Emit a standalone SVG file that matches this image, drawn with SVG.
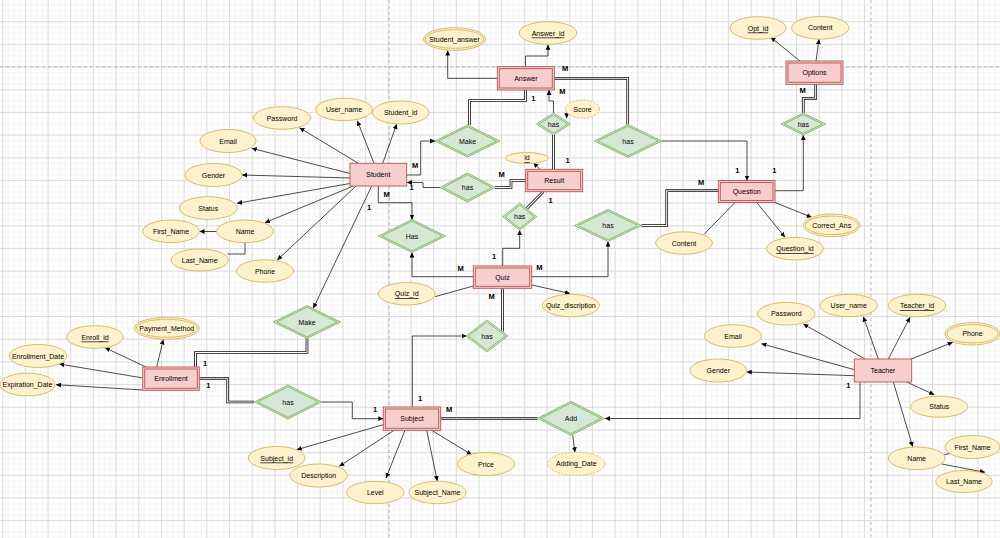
<svg xmlns="http://www.w3.org/2000/svg" width="1000" height="538" viewBox="0 0 1000 538">
<defs>
<pattern id="gmin" x="-0.135" y="-3.835" width="5.67" height="5.67" patternUnits="userSpaceOnUse"><path d="M2.835,0V5.67M0,2.835H5.67" stroke="#eeeeee" stroke-width="0.6"/></pattern>
<pattern id="gmaj" x="-8.64" y="-12.34" width="22.68" height="22.68" patternUnits="userSpaceOnUse"><path d="M11.34,0V22.68M0,11.34H22.68" stroke="#d6d6d6" stroke-width="0.8"/></pattern>
<marker id="ar" markerWidth="6" markerHeight="6" refX="5" refY="3" orient="auto" markerUnits="userSpaceOnUse"><path d="M0,0.6L5,3L0,5.4z" fill="#000"/></marker>
</defs>
<style>
.e{fill:#f8cecc;stroke:#b85450;stroke-width:0.9}
.ei{fill:none;stroke:#b85450;stroke-width:0.9}
.a{fill:#fff2cc;stroke:#d6b656;stroke-width:0.9}
.ai{fill:none;stroke:#d6b656;stroke-width:0.9}
.dash{stroke-dasharray:2,1.5}
.r{fill:#d5e8d4;stroke:#82b366;stroke-width:0.9}
.ri{fill:none;stroke:#82b366;stroke-width:0.9}
.t{font-family:"Liberation Sans",Arial,sans-serif;font-size:7px;text-anchor:middle;dominant-baseline:central;fill:#000}
.u{text-decoration:underline}
.c{fill:none;stroke:#111;stroke-width:0.75}
.ca{fill:none;stroke:#111;stroke-width:0.75;marker-end:url(#ar)}
.d1{fill:none;stroke:#111;stroke-width:2.7}
.d2{fill:none;stroke:#fff;stroke-width:1.1}
.lb{font-family:"Liberation Sans",Arial,sans-serif;font-size:7.5px;font-weight:bold;text-anchor:middle;dominant-baseline:central;fill:#000}
</style>
<rect width="1000" height="538" fill="#fff"/>
<rect width="1000" height="538" fill="url(#gmin)"/>
<rect width="1000" height="538" fill="url(#gmaj)"/>
<path d="M0,66.7H1000M389.3,0V538M871,0V538" stroke="#a8a8a8" stroke-width="0.8" stroke-dasharray="3,3" fill="none"/>

<g id="connectors">
<!-- double lines -->
<path class="d1" d="M469.5,125V100.5H525.5V90"/><path class="d2" d="M469.5,125V100.5H525.5V90"/>
<path class="d1" d="M554.3,78.3H627.7V124.5"/><path class="d2" d="M554.3,78.3H627.7V124.5"/>
<path class="d1" d="M553.5,135V169.3"/><path class="d2" d="M553.5,135V169.3"/>
<path class="d1" d="M495,187.5H511V180.5H525.7"/><path class="d2" d="M495,187.5H511V180.5H525.7"/>
<path class="d1" d="M526.7,208.5L543.3,191.7"/><path class="d2" d="M526.7,208.5L543.3,191.7"/>
<path class="d1" d="M641.5,225.5H666.7V190.7H718.3"/><path class="d2" d="M641.5,225.5H666.7V190.7H718.3"/>
<path class="d1" d="M803.3,112.7V98.3H815.7V84.3"/><path class="d2" d="M803.3,112.7V98.3H815.7V84.3"/>
<path class="d1" d="M307,338.5V352.5H195.5V367"/><path class="d2" d="M307,338.5V352.5H195.5V367"/>
<path class="d1" d="M199.3,378.7H227.7V402H254"/><path class="d2" d="M199.3,378.7H227.7V402H254"/>
<path class="d1" d="M502.5,288.3V331.5"/><path class="d2" d="M502.5,288.3V331.5"/>
<path class="d1" d="M440.7,418.7H537.3"/><path class="d2" d="M440.7,418.7H537.3"/>
<!-- single lines -->
<path class="ca" d="M358.3,163.3L299.5,127.8"/>
<path class="ca" d="M374,163.3L357.3,120.7"/>
<path class="ca" d="M382.7,163.3L396.7,124"/>
<path class="ca" d="M350,173.5L251.7,148.3"/>
<path class="ca" d="M350,178L242,175"/>
<path class="ca" d="M350,183.5L237,203.3"/>
<path class="ca" d="M353.3,186L265,222.7"/>
<path class="ca" d="M356,186L277.3,260"/>
<path class="ca" d="M371.7,186L313.3,308.3"/>
<path class="ca" d="M216.7,231.5H199.5"/>
<path class="c" d="M245,242.7V254H227.5"/>
<path class="ca" d="M406.7,175H420.7V141H435"/>
<path class="ca" d="M440,187.5H423V182.5H407"/>
<path class="ca" d="M378.3,186V202.7H412V219.5"/>
<path class="ca" d="M473.3,276.7H412V252.5"/>
<path class="ca" d="M525.5,66.7V56H548V44.7"/>
<path class="ca" d="M497.3,78.3H447.7V50.5"/>
<path class="ca" d="M661.5,141H747V180.5"/>
<path class="ca" d="M553.5,113V101H549V90"/>
<path class="ca" d="M566.7,112.5V118.3"/>
<path class="ca" d="M540,169.3L533.3,162.7"/>
<path class="ca" d="M502.7,266V248.3H519.7V230.2"/>
<path class="c" d="M473.3,286L435,296.7"/>
<path class="ca" d="M531.7,285L570,293.5"/>
<path class="ca" d="M531.7,276.7H608V241.5"/>
<path class="c" d="M735,202.5L704,234.3"/>
<path class="ca" d="M756.7,202.5L785,237.3"/>
<path class="ca" d="M775,202.5L811.7,217.3"/>
<path class="ca" d="M775,190.7H803.3V135"/>
<path class="ca" d="M800,61L770.7,37.3"/>
<path class="ca" d="M816,61L819,39.3"/>
<path class="ca" d="M321.5,402H352.3V418.7H383.3"/>
<path class="ca" d="M146,367L105,347.7"/>
<path class="ca" d="M156.7,367L163.3,339.5"/>
<path class="ca" d="M143,378L59.3,364"/>
<path class="ca" d="M142.7,390L56,384.7"/>
<path class="ca" d="M412.3,407V336H466.5"/>
<path class="ca" d="M860,382V418.5H605"/>
<path class="ca" d="M572.7,435.3L575,452.3"/>
<path class="ca" d="M383.3,424.7L296.7,449.7"/>
<path class="ca" d="M394,430.3L339.3,466.3"/>
<path class="ca" d="M405,430.3L386,478"/>
<path class="ca" d="M426.7,430.3L437.3,481"/>
<path class="ca" d="M431.7,430.3L471.7,454.7"/>
<path class="ca" d="M854.3,369.7L761.5,343.7"/>
<path class="ca" d="M854.3,375.7L746.7,372"/>
<path class="ca" d="M865,359L803.3,324"/>
<path class="ca" d="M878.3,359L863.3,316.7"/>
<path class="ca" d="M888.3,359L910,317.3"/>
<path class="ca" d="M910,359.5L952.7,342.3"/>
<path class="ca" d="M906.7,382L934.3,394.7"/>
<path class="ca" d="M893.3,382L912.7,446.7"/>
<path class="c" d="M944.3,454.7L950,453.5"/>
<path class="ca" d="M941.7,464L985,472.3"/>
<!-- cardinality labels -->
<text class="lb" x="415" y="165.7">M</text>
<text class="lb" x="533.3" y="98.3">1</text>
<text class="lb" x="565" y="68.3">M</text>
<text class="lb" x="562.3" y="91.7">M</text>
<text class="lb" x="567.7" y="160">1</text>
<text class="lb" x="737.3" y="170.7">1</text>
<text class="lb" x="774.3" y="170.7">1</text>
<text class="lb" x="802.7" y="90.7">M</text>
<text class="lb" x="411.7" y="187.3">1</text>
<text class="lb" x="501.7" y="174.2">M</text>
<text class="lb" x="386.7" y="194.3">M</text>
<text class="lb" x="369" y="207.3">1</text>
<text class="lb" x="460.7" y="268.3">M</text>
<text class="lb" x="494" y="256.7">1</text>
<text class="lb" x="550.7" y="200">1</text>
<text class="lb" x="539.3" y="267.7">M</text>
<text class="lb" x="701" y="182.7">M</text>
<text class="lb" x="491.7" y="296">M</text>
<text class="lb" x="205" y="363">1</text>
<text class="lb" x="208.3" y="385.3">1</text>
<text class="lb" x="375" y="409.7">1</text>
<text class="lb" x="420" y="398">1</text>
<text class="lb" x="449" y="409.7">M</text>
<text class="lb" x="848.3" y="385.7">1</text>
</g>

<!-- entities -->
<g id="student"><rect class="e" x="350" y="163.3" width="56.7" height="22.7"/><text class="t" x="378.3" y="174.7">Student</text></g>
<g id="answer"><rect class="e" x="497.3" y="66.7" width="57" height="23.3"/><rect class="ei" x="499.3" y="68.7" width="53" height="19.3"/><text class="t" x="525.8" y="78.3">Answer</text></g>
<g id="options"><rect class="e" x="786" y="61" width="57" height="23.3"/><rect class="ei" x="788" y="63" width="53" height="19.3"/><text class="t" x="814.5" y="72.7">Options</text></g>
<g id="result"><rect class="e" x="525.7" y="169.3" width="57" height="22.4"/><rect class="ei" x="527.7" y="171.3" width="53" height="18.4"/><text class="t" x="554.2" y="180.5">Result</text></g>
<g id="question"><rect class="e" x="718.3" y="180.5" width="56.7" height="22"/><rect class="ei" x="720.3" y="182.5" width="52.7" height="18"/><text class="t" x="746.7" y="191.5">Question</text></g>
<g id="quiz"><rect class="e" x="473.3" y="266" width="58.4" height="22.3"/><rect class="ei" x="475.3" y="268" width="54.4" height="18.3"/><text class="t" x="502.5" y="277.2">Quiz</text></g>
<g id="enrollment"><rect class="e" x="142.7" y="367" width="56.6" height="23.3"/><rect class="ei" x="144.7" y="369" width="52.6" height="19.3"/><text class="t" x="171" y="378.7">Enrollment</text></g>
<g id="subject"><rect class="e" x="383.3" y="407" width="57.4" height="23.3"/><rect class="ei" x="385.3" y="409" width="53.4" height="19.3"/><text class="t" x="412" y="418.7">Subject</text></g>
<g id="teacher"><rect class="e" x="854.3" y="359" width="57.4" height="23"/><text class="t" x="883" y="370.5">Teacher</text></g>

<!-- relationships -->
<g id="rel-make1"><polygon class="r" points="467.5,125 500,141 467.5,157 435,141"/><polygon class="ri" points="467.5,126.65 496.6,141 467.5,155.35 438.4,141"/><text class="t" x="467.5" y="141">Make</text></g>
<g id="rel-has-student-result"><polygon class="r" points="467.5,173 495,187.5 467.5,202 440,187.5"/><polygon class="ri" points="467.5,174.7 491.8,187.5 467.5,200.3 443.2,187.5"/><text class="t" x="467.5" y="187.5">has</text></g>
<g id="rel-has-student-quiz"><polygon class="r" points="412,219.5 445.5,236 412,252.5 378.5,236"/><polygon class="ri" points="412,221.15 442.1,236 412,250.85 381.9,236"/><text class="t" x="412" y="236">Has</text></g>
<g id="rel-make2"><polygon class="r" points="307,305.5 340.5,322 307,338.5 273.5,322"/><polygon class="ri" points="307,307.15 337.1,322 307,336.85 276.9,322"/><text class="t" x="307" y="322">Make</text></g>
<g id="rel-has-result-answer"><polygon class="r" points="553.5,113 570.5,124 553.5,135 536.5,124"/><polygon class="ri" points="553.5,114.8 567.75,124 553.5,133.2 539.25,124"/><text class="t" x="553.5" y="124">has</text></g>
<g id="rel-has-answer-question"><polygon class="r" points="628,124.5 661.5,141 628,157.5 594.5,141"/><polygon class="ri" points="628,126.15 658.1,141 628,155.85 597.9,141"/><text class="t" x="628" y="141">has</text></g>
<g id="rel-has-question-options"><polygon class="r" points="803.3,113 825.8,124 803.3,135 780.8,124"/><polygon class="ri" points="803.3,114.65 822.4,124 803.3,133.35 784.2,124"/><text class="t" x="803.3" y="124">has</text></g>
<g id="rel-has-quiz-result"><polygon class="r" points="519.7,203.2 536.7,216.7 519.7,230.2 502.7,216.7"/><polygon class="ri" points="519.7,205.1 534.3,216.7 519.7,228.3 505.1,216.7"/><text class="t" x="519.7" y="216.7">has</text></g>
<g id="rel-has-quiz-question"><polygon class="r" points="608,209.5 641.5,225.5 608,241.5 574.5,225.5"/><polygon class="ri" points="608,211.15 638,225.5 608,239.85 578,225.5"/><text class="t" x="608" y="225.5">has</text></g>
<g id="rel-has-quiz-subject"><polygon class="r" points="487,320 508,336 487,352 466,336"/><polygon class="ri" points="487,321.9 505.5,336 487,350.1 468.5,336"/><text class="t" x="487" y="336">has</text></g>
<g id="rel-has-enrollment-subject"><polygon class="r" points="288,385 321.5,402 288,419 254.5,402"/><polygon class="ri" points="288,386.7 318.2,402 288,417.3 257.8,402"/><text class="t" x="288" y="402">has</text></g>
<g id="rel-add"><polygon class="r" points="571,401.3 604.5,418.3 571,435.3 537.5,418.3"/><polygon class="ri" points="571,403 601.2,418.3 571,433.6 540.8,418.3"/><text class="t" x="571" y="418.3">Add</text></g>

<!-- attributes -->
<g id="attr-student-password"><ellipse class="a" cx="282" cy="118" rx="28.5" ry="11.3"/><text class="t" x="282" y="118">Password</text></g>
<g id="attr-student-username"><ellipse class="a" cx="344" cy="109.5" rx="28.3" ry="11.2"/><text class="t" x="344" y="109.5">User_name</text></g>
<g id="attr-student-id"><ellipse class="a" cx="400.7" cy="112.5" rx="28.3" ry="11.5"/><text class="t" x="400.7" y="112.5">Student_id</text></g>
<g id="attr-student-email"><ellipse class="a" cx="228" cy="141" rx="28" ry="11.5"/><text class="t" x="228" y="141">Email</text></g>
<g id="attr-student-gender"><ellipse class="a" cx="213.5" cy="175" rx="28.5" ry="11.5"/><text class="t" x="213.5" y="175">Gender</text></g>
<g id="attr-student-status"><ellipse class="a" cx="208.3" cy="208" rx="29" ry="11.3"/><text class="t" x="208.3" y="208">Status</text></g>
<g id="attr-student-firstname"><ellipse class="a" cx="171" cy="231.3" rx="28.3" ry="11.3"/><text class="t" x="171" y="231.3">First_Name</text></g>
<g id="attr-student-name"><ellipse class="a" cx="245" cy="231.3" rx="28.3" ry="11.3"/><text class="t" x="245" y="231.3">Name</text></g>
<g id="attr-student-lastname"><ellipse class="a" cx="199.7" cy="260" rx="28.7" ry="11"/><text class="t" x="199.7" y="260">Last_Name</text></g>
<g id="attr-student-phone"><ellipse class="a" cx="265" cy="271" rx="28.5" ry="11.2"/><text class="t" x="265" y="271">Phone</text></g>

<g id="attr-student-answer"><ellipse class="a" cx="454.5" cy="39" rx="31" ry="11.3"/><ellipse class="ai" cx="454.5" cy="39" rx="29" ry="9.3"/><text class="t" x="454.5" y="39">Student_answer</text></g>
<g id="attr-answer-id"><ellipse class="a" cx="548" cy="33" rx="28.7" ry="11.3"/><text class="t u" x="548" y="33">Answer_id</text></g>
<g id="attr-opt-id"><ellipse class="a" cx="758" cy="28" rx="28" ry="11.3"/><text class="t u" x="758" y="28">Opt_id</text></g>
<g id="attr-options-content"><ellipse class="a" cx="820.3" cy="27.8" rx="28.7" ry="11.3"/><text class="t" x="820.3" y="27.8">Content</text></g>
<g id="attr-score"><ellipse class="a dash" cx="582.5" cy="109" rx="17" ry="9"/><text class="t" x="582.5" y="109">Score</text></g>
<g id="attr-result-id"><ellipse class="a" cx="527" cy="158" rx="21" ry="5.5"/><text class="t u" x="527" y="157.5">id</text></g>
<g id="attr-question-content"><ellipse class="a" cx="684" cy="243" rx="28.3" ry="11.2"/><text class="t" x="684" y="243">Content</text></g>
<g id="attr-correct-ans"><ellipse class="a" cx="831.7" cy="225.3" rx="28.3" ry="11.3"/><ellipse class="ai" cx="831.7" cy="225.3" rx="26.3" ry="9.3"/><text class="t" x="831.7" y="225.3">Correct_Ans</text></g>
<g id="attr-question-id"><ellipse class="a" cx="795" cy="248.7" rx="28.3" ry="11.3"/><text class="t u" x="795" y="248.7">Question_id</text></g>
<g id="attr-quiz-id"><ellipse class="a" cx="406.7" cy="293.8" rx="28.3" ry="11.2"/><text class="t u" x="406.7" y="293.8">Quiz_id</text></g>
<g id="attr-quiz-discription"><ellipse class="a" cx="570.8" cy="305.5" rx="28.5" ry="11.2"/><text class="t" x="570.8" y="305.5">Quiz_discription</text></g>
<g id="attr-enroll-id"><ellipse class="a" cx="95" cy="337" rx="28.3" ry="11.3"/><text class="t u" x="95" y="337">Enroll_id</text></g>
<g id="attr-payment-method"><ellipse class="a" cx="166.8" cy="328.3" rx="32.5" ry="11"/><ellipse class="ai" cx="166.8" cy="328.3" rx="30.5" ry="9"/><text class="t" x="166.8" y="328.3">Payment_Method</text></g>
<g id="attr-enrollment-date"><ellipse class="a" cx="38" cy="356" rx="28.7" ry="11.5"/><text class="t" x="38" y="356">Enrollment_Date</text></g>
<g id="attr-expiration-date"><ellipse class="a" cx="27.5" cy="384.5" rx="27.5" ry="11.3"/><text class="t" x="27.5" y="384.5">Expiration_Date</text></g>
<g id="attr-subject-id"><ellipse class="a" cx="276.7" cy="458" rx="28.3" ry="11.5"/><text class="t u" x="276.7" y="458">Subject_id</text></g>
<g id="attr-description"><ellipse class="a" cx="318.7" cy="475.5" rx="28.7" ry="11.5"/><text class="t" x="318.7" y="475.5">Description</text></g>
<g id="attr-level"><ellipse class="a" cx="375.3" cy="492.5" rx="28.7" ry="11.2"/><text class="t" x="375.3" y="492.5">Level</text></g>
<g id="attr-subject-name"><ellipse class="a" cx="437.5" cy="492.5" rx="28.5" ry="11.2"/><text class="t" x="437.5" y="492.5">Subject_Name</text></g>
<g id="attr-price"><ellipse class="a" cx="486" cy="464" rx="28.5" ry="11.5"/><text class="t" x="486" y="464">Price</text></g>
<g id="attr-adding-date"><ellipse class="a dash" cx="576.3" cy="463.8" rx="28.7" ry="11.5"/><text class="t" x="576.3" y="463.8">Adding_Date</text></g>
<g id="attr-teacher-email"><ellipse class="a" cx="733" cy="336" rx="28.5" ry="11.3"/><text class="t" x="733" y="336">Email</text></g>
<g id="attr-teacher-gender"><ellipse class="a" cx="718.3" cy="370.5" rx="28.3" ry="11.5"/><text class="t" x="718.3" y="370.5">Gender</text></g>
<g id="attr-teacher-password"><ellipse class="a" cx="786.3" cy="313.7" rx="28.7" ry="11.3"/><text class="t" x="786.3" y="313.7">Password</text></g>
<g id="attr-teacher-username"><ellipse class="a" cx="848.7" cy="305.5" rx="28.7" ry="11.2"/><text class="t" x="848.7" y="305.5">User_name</text></g>
<g id="attr-teacher-id"><ellipse class="a" cx="917" cy="305.5" rx="28.7" ry="11.2"/><text class="t u" x="917" y="305.5">Teacher_id</text></g>
<g id="attr-teacher-phone"><ellipse class="a" cx="972.5" cy="333.8" rx="27.5" ry="11.2"/><ellipse class="ai" cx="972.5" cy="333.8" rx="25.5" ry="9.2"/><text class="t" x="972.5" y="333.8">Phone</text></g>
<g id="attr-teacher-status"><ellipse class="a" cx="939.2" cy="406.7" rx="28.5" ry="10.5"/><text class="t" x="939.2" y="406.7">Status</text></g>
<g id="attr-teacher-name"><ellipse class="a" cx="916.7" cy="458.3" rx="28.3" ry="11.3"/><text class="t" x="916.7" y="458.3">Name</text></g>
<g id="attr-teacher-firstname"><ellipse class="a" cx="972.5" cy="447" rx="27.5" ry="11.5"/><text class="t" x="972.5" y="447">First_Name</text></g>
<g id="attr-teacher-lastname"><ellipse class="a" cx="964" cy="481.5" rx="28.2" ry="11"/><text class="t" x="964" y="481.5">Last_Name</text></g>
</svg>
